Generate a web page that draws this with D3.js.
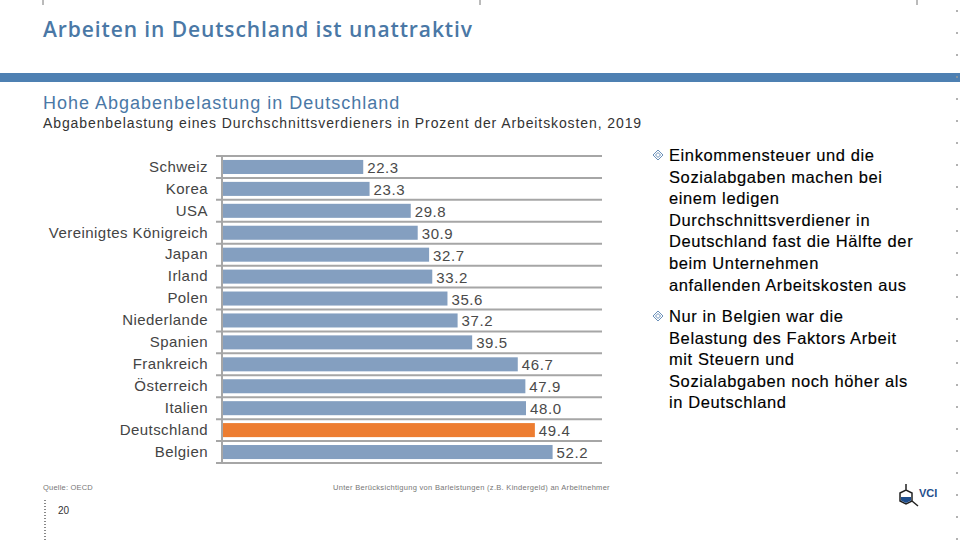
<!DOCTYPE html>
<html>
<head>
<meta charset="utf-8">
<script src="https://cdn.jsdelivr.net/npm/d3@7"></script>
<style>
  body { margin: 0; background: #fff; }
  svg { display: block; }
</style>
</head>
<body>
<div id="chart"></div>
<script>
// data
const countries = ["Schweiz", "Korea", "USA", "Vereinigtes Königreich", "Japan", "Irland", "Polen",
    "Niederlande", "Spanien", "Frankreich", "Österreich", "Italien", "Deutschland", "Belgien"];
const burden = [22.3, 23.3, 29.8, 30.9, 32.7, 33.2, 35.6, 37.2, 39.5, 46.7, 47.9, 48.0, 49.4, 52.2];
const xTicks = [0, 60];
const highlight = "Deutschland";

const bullet1 = ["Einkommensteuer und die", "Sozialabgaben machen bei", "einem ledigen",
    "Durchschnittsverdiener in", "Deutschland fast die Hälfte der", "beim Unternehmen",
    "anfallenden Arbeitskosten aus"];
const bullet2 = ["Nur in Belgien war die", "Belastung des Faktors Arbeit", "mit Steuern und",
    "Sozialabgaben noch höher als", "in Deutschland"];

const data = countries.map((c, i) => ({ country: c, value: burden[i] }));

const W = 960, H = 540;
const svg = d3.select("#chart").append("svg")
    .attr("width", W)
    .attr("height", H)
    .style("font-family", "'Liberation Sans', Arial, sans-serif");

// header
svg.append("text")
    .attr("x", 43).attr("y", 37)
    .attr("fill", "#4a78a6")
    .style("font-family", "'Open Sans', sans-serif")
    .style("font-size", "21px")
    .style("font-weight", "600")
    .style("letter-spacing", "0.9px")
    .text("Arbeiten in Deutschland ist unattraktiv");

svg.append("rect")
    .attr("x", 0).attr("y", 73)
    .attr("width", W).attr("height", 9)
    .attr("fill", "#4e80b2");

svg.append("text")
    .attr("x", 43).attr("y", 109)
    .attr("fill", "#4a78a6")
    .style("font-size", "18px")
    .style("letter-spacing", "1px")
    .text("Hohe Abgabenbelastung in Deutschland");

svg.append("text")
    .attr("x", 43).attr("y", 128)
    .attr("fill", "#333")
    .style("font-size", "14px")
    .style("letter-spacing", "0.9px")
    .text("Abgabenbelastung eines Durchschnittsverdieners in Prozent der Arbeitskosten, 2019");

// scales
const xScale = d3.scaleLinear()
    .domain(d3.extent(xTicks))
    .range([222, 602]);

const yScale = d3.scaleBand()
    .domain(countries)
    .range([156, 463])
    .paddingInner(0.36)
    .paddingOuter(0.18);

// horizontal grid lines between categories
const gridY = d3.range(countries.length + 1).map(i => 156 + i * (307 / countries.length));
svg.append("g").selectAll("line")
    .data(gridY)
    .enter()
    .append("line")
    .attr("x1", 216).attr("x2", 602)
    .attr("y1", d => d).attr("y2", d => d)
    .attr("stroke", "#a6a6a6")
    .attr("stroke-width", 2);

// bars
svg.selectAll(".bar")
    .data(data)
    .enter()
    .append("rect")
    .attr("class", "bar")
    .attr("x", xScale(0))
    .attr("y", d => yScale(d.country))
    .attr("width", d => xScale(d.value) - xScale(0))
    .attr("height", yScale.bandwidth())
    .attr("fill", d => d.country === highlight ? "#ed7d31" : "#849fc0");

// value labels
svg.selectAll(".val")
    .data(data)
    .enter()
    .append("text")
    .attr("class", "val")
    .attr("x", d => xScale(d.value) + 4)
    .attr("y", d => yScale(d.country) + yScale.bandwidth() / 2 + 6)
    .attr("fill", "#4a4a4a")
    .style("font-size", "15px")
    .style("letter-spacing", "0.6px")
    .text(d => d.value.toFixed(1));

// y axis: category labels + vertical line
const yAxis = svg.append("g")
    .attr("transform", `translate(${xScale(0)},0)`)
    .call(d3.axisLeft(yScale).tickSize(0).tickPadding(14));
yAxis.select(".domain")
    .attr("stroke", "#a6a6a6")
    .attr("stroke-width", 2)
    .attr("d", "M0,156V463");
yAxis.selectAll("text")
    .attr("fill", "#444")
    .style("font-size", "15px")
    .style("letter-spacing", "0.45px")
    .style("font-family", "'Liberation Sans', Arial, sans-serif");

// right bullet text
function drawBullet(lines, y0) {
    const g = svg.append("g");
    g.append("path")
        .attr("d", `M658,${y0 - 11} l5,5 l-5,5 l-5,-5 Z M658,${y0 - 8.5} l2.5,2.5 l-2.5,2.5 l-2.5,-2.5 Z`)
        .attr("fill", "none")
        .attr("stroke", "#6a8fb8")
        .attr("stroke-width", 1);
    g.selectAll("text")
        .data(lines)
        .enter()
        .append("text")
        .attr("x", 669)
        .attr("y", (d, i) => y0 + i * 21.6)
        .attr("fill", "#000")
        .attr("stroke", "#000")
        .attr("stroke-width", 0.15)
        .style("font-size", "16.5px")
        .style("letter-spacing", "0.6px")
        .text(d => d);
}
drawBullet(bullet1, 161);
drawBullet(bullet2, 322);

// footer
svg.append("text")
    .attr("x", 43).attr("y", 490)
    .attr("fill", "#777")
    .style("font-size", "7.5px")
    .style("letter-spacing", "0.2px")
    .text("Quelle: OECD");

svg.append("text")
    .attr("x", 333).attr("y", 490)
    .attr("fill", "#777")
    .style("font-size", "7.5px")
    .style("letter-spacing", "0.3px")
    .text("Unter Berücksichtigung von Barleistungen (z.B. Kindergeld) an Arbeitnehmer");

svg.append("text")
    .attr("x", 58).attr("y", 514)
    .attr("fill", "#333")
    .style("font-size", "10px")
    .text("20");

// little dashed marks at bottom-left
svg.append("line")
    .attr("x1", 45).attr("x2", 45)
    .attr("y1", 500).attr("y2", 540)
    .attr("stroke", "#888")
    .attr("stroke-width", 2)
    .attr("stroke-dasharray", "1,2");

// dotted marks on right edge
svg.append("line")
    .attr("x1", 957).attr("x2", 957)
    .attr("y1", 10).attr("y2", 540)
    .attr("stroke", "#999")
    .attr("stroke-width", 1.5)
    .attr("stroke-dasharray", "2,20");

// top tick marks
[43, 480, 917].forEach(x => {
    svg.append("line")
        .attr("x1", x).attr("x2", x)
        .attr("y1", 0).attr("y2", 5)
        .attr("stroke", "#777");
});

// VCI logo
const logo = svg.append("g").attr("transform", "translate(906,498)");
logo.append("path")
    .attr("d", "M0,-14 V-8 M-6,-5 L0,-8 L6,-5 V3 L0,6 L-6,3 Z M6,3 L12,8")
    .attr("fill", "none")
    .attr("stroke", "#222")
    .attr("stroke-width", 1.5);
logo.append("path")
    .attr("d", "M-5,-1 H5 V2.5 L0,5 L-5,2.5 Z")
    .attr("fill", "#1f4e8c");
svg.append("text")
    .attr("x", 919).attr("y", 497)
    .attr("fill", "#1f4e8c")
    .style("font-size", "11px")
    .style("font-weight", "bold")
    .text("VCI");
</script>
</body>
</html>
